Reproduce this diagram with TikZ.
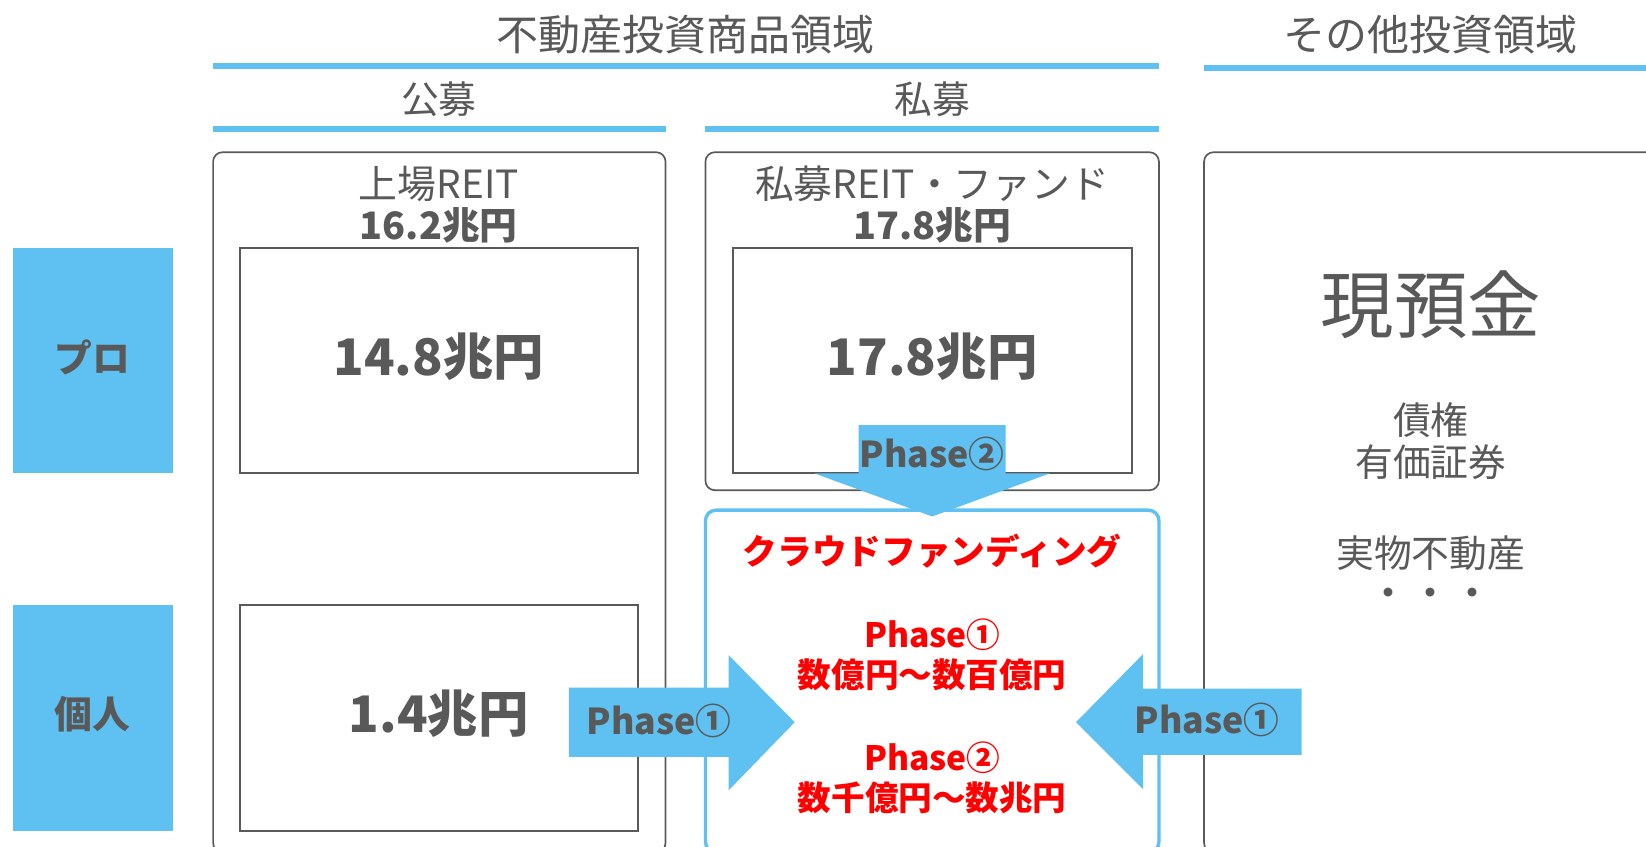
\documentclass[tikz,border=0pt]{standalone}
\usepackage{fontspec}
\setmainfont{Noto Sans CJK JP}
\definecolor{skyb}{HTML}{5EC1F1}
\definecolor{txtg}{HTML}{595959}
\definecolor{boxg}{HTML}{5A5A5A}
\definecolor{redt}{HTML}{FF0000}
\newcommand\fsz[2]{\fontsize{#1}{#2}\selectfont}
\begin{document}
\begin{tikzpicture}[x=0.5pt,y=-0.5pt,
  hdrline/.style={draw=skyb,line width=2.8pt},
  outerbox/.style={draw=boxg,line width=0.8pt,rounded corners=4.5pt},
  innerbox/.style={draw=boxg,line width=1pt},
  cfbox/.style={draw=skyb,line width=1.6pt,rounded corners=5pt},
  bluelabel/.style={fill=skyb},
  blockarrow/.style={fill=skyb},
  txt/.style={text=txtg,inner sep=0pt,anchor=center},
  hdr/.style={txt,font=\fsz{20}{24}},
  sub/.style={txt,font=\fsz{18}{22}},
  title/.style={txt,font=\fsz{18.5}{22}},
  smallnum/.style={txt,font=\bfseries\fsz{18}{21}},
  bignum/.style={txt,font=\bfseries\fsz{24}{28}},
  phasetxt/.style={txt,font=\bfseries\fsz{17}{20}},
  redtxt/.style={inner sep=0pt,anchor=center,text=redt,font=\bfseries\fsz{16}{19}},
  sidelbl/.style={txt,font=\bfseries\fsz{18}{22}},
  other/.style={txt,font=\fsz{18}{22}}]
\useasboundingbox (0,0) rectangle (1568,806);
\clip (0,0) rectangle (1568,806);
\fill[white] (0,0) rectangle (1568,806);

% headers
\node[hdr] (h1) at (653,33) {不動産投資商品領域};
\node[hdr] (h2) at (1363,33) {その他投資領域};
\draw[hdrline] (203,63) -- (1104,63);
\draw[hdrline] (1147,65) -- (1568,65);
\node[sub] (kobo) at (418,95) {公募};
\node[sub] (shibo) at (888,95) {私募};
\draw[hdrline] (203,123) -- (634,123);
\draw[hdrline] (672,123) -- (1104,123);

% side labels
\fill[bluelabel] (12,236) rectangle (165,451);
\fill[bluelabel] (12,576) rectangle (165,792);
\node[sidelbl] (pro) at (88,340) {プロ};
\node[sidelbl] (kojin) at (88,680) {個人};

% boxes
\draw[outerbox] (203,145) rectangle (634,812);
\draw[innerbox] (229,236) rectangle (608,451);
\draw[innerbox] (229,576) rectangle (608,792);
\draw[outerbox] (672,145) rectangle (1104,467);
\draw[innerbox] (698,236) rectangle (1078,451);
\draw[cfbox] (672,486) rectangle (1104,812);
\draw[outerbox] (1147,145) rectangle (1580,812);

% texts in boxes
\node[title] (jreit) at (418,175) {上場REIT};
\node[smallnum] (jreitv) at (418,215) {16.2兆円};
\node[bignum] (pro1) at (418,340) {14.8兆円};
\node[bignum] (kojin1) at (418,680) {1.4兆円};
\node[title] (preit) at (888,175) {私募REIT・ファンド};
\node[smallnum] (preitv) at (888,215) {17.8兆円};
\node[bignum] (pro2) at (888,340) {17.8兆円};

% block arrows
\fill[blockarrow] (818,405) -- (958,405) -- (958,451) -- (1000,451) -- (888,492) -- (776,451) -- (818,451) -- cycle;
\fill[blockarrow] (542,655) -- (694,655) -- (694,624) -- (757,688) -- (694,753) -- (694,721) -- (542,721) -- cycle;
\fill[blockarrow] (1240,656) -- (1089,656) -- (1089,623) -- (1025,688) -- (1089,752) -- (1089,719) -- (1240,719) -- cycle;
\node[phasetxt] (ph2a) at (888,432) {Phase②};
\node[phasetxt] (ph1l) at (628,687) {Phase①};
\node[phasetxt] (ph1r) at (1150,686) {Phase①};

% crowdfunding
\node[redtxt,font=\bfseries\fsz{16.5}{20}] (cf) at (888,525) {クラウドファンディング};
\node[redtxt] (cfp1) at (888,605) {Phase①};
\node[redtxt] (cfv1) at (888,643) {数億円～数百億円};
\node[redtxt] (cfp2) at (888,722) {Phase②};
\node[redtxt] (cfv2) at (888,760) {数千億円～数兆円};

% other area
\node[txt,font=\fsz{35}{40}] (cash) at (1363,290) {現預金};
\node[other] (bond) at (1363,400) {債権};
\node[other] (sec) at (1363,440) {有価証券};
\node[other] (real) at (1363,527) {実物不動産};
\node[other,font=\fsz{20}{24}] (dots) at (1363,570) {・・・};
\end{tikzpicture}
\end{document}
